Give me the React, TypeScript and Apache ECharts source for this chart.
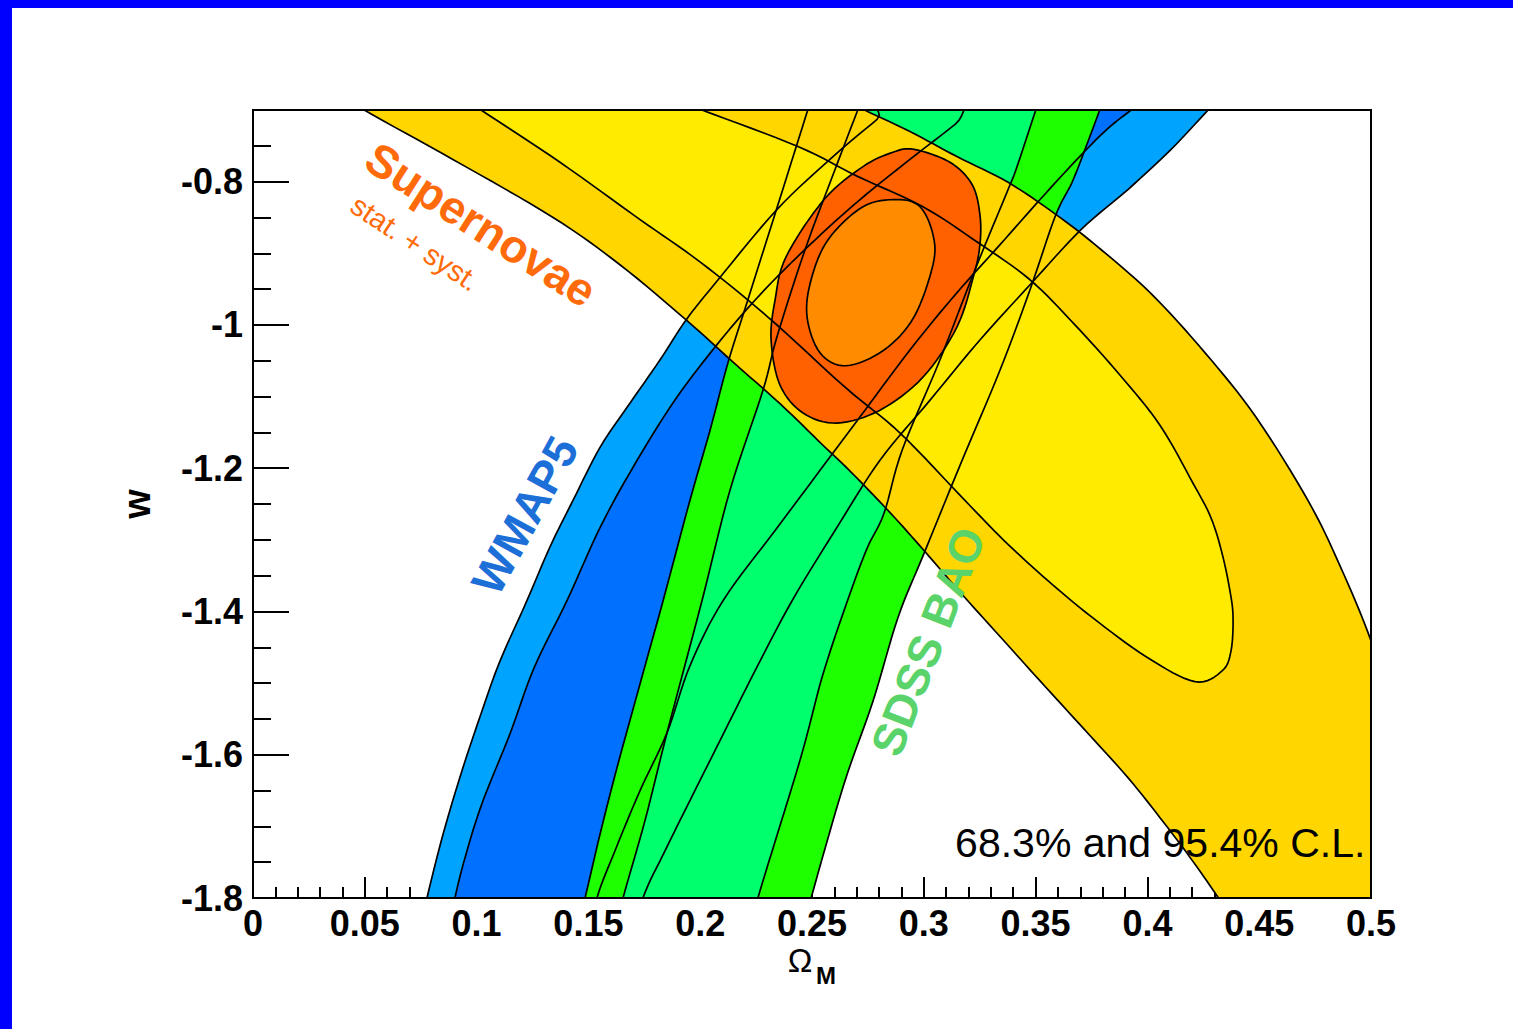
import React, { useEffect, useRef } from "react";
import * as echarts from "echarts";

type Pt = [number, number];

// Axis ranges: Omega_M horizontally, w vertically
const X_MIN = 0;
const X_MAX = 0.5;
const X_STEP = 0.05;
const W_MIN = -1.8;
const W_MAX = -0.7;
const W_STEP = 0.2;
const W_MINOR_STEP = 0.05;

// Confidence contours as closed outlines in (Omega_M, w)
const wmap95: Pt[] = [
  [0.0725, -1.874], [0.0778, -1.8], [0.085, -1.711], [0.0935, -1.622], [0.1024, -1.539],
  [0.1105, -1.469], [0.1225, -1.385], [0.1328, -1.31], [0.1431, -1.245], [0.1552, -1.171],
  [0.1673, -1.115], [0.182, -1.049], [0.1937, -0.993], [0.208, -0.937], [0.2343, -0.839],
  [0.2594, -0.765], [0.2791, -0.713], [0.2916, -0.678],
  [0.4347, -0.678], [0.4275, -0.699], [0.4106, -0.755], [0.3913, -0.811], [0.3703, -0.867],
  [0.3475, -0.944], [0.3251, -1.021], [0.3028, -1.105], [0.2804, -1.189], [0.2603, -1.287],
  [0.2411, -1.385], [0.2245, -1.483], [0.2089, -1.58], [0.1954, -1.664], [0.1843, -1.734],
  [0.1744, -1.8], [0.1686, -1.874],
];

const wmap68: Pt[] = [
  [0.0859, -1.874], [0.0903, -1.8], [0.0957, -1.734], [0.1029, -1.664], [0.1149, -1.571],
  [0.1258, -1.478], [0.1404, -1.385], [0.1552, -1.283], [0.1699, -1.199], [0.1878, -1.109],
  [0.2066, -1.031], [0.2267, -0.958], [0.2491, -0.888], [0.2715, -0.825], [0.2938, -0.769],
  [0.314, -0.72], [0.3296, -0.678],
  [0.4012, -0.678], [0.3931, -0.699], [0.3819, -0.727], [0.3685, -0.769], [0.352, -0.825],
  [0.3341, -0.888], [0.314, -0.958], [0.2938, -1.035], [0.2737, -1.119], [0.2536, -1.203],
  [0.2335, -1.287], [0.2102, -1.385], [0.1954, -1.476], [0.1852, -1.569], [0.1731, -1.65],
  [0.1619, -1.734], [0.1538, -1.8], [0.1485, -1.874],
];

const bao95: Pt[] = [
  [0.1427, -1.874], [0.1485, -1.8], [0.1552, -1.711], [0.1628, -1.618], [0.1731, -1.501],
  [0.1834, -1.385], [0.1954, -1.245], [0.2044, -1.147], [0.2124, -1.053], [0.2209, -0.969],
  [0.2348, -0.832], [0.2482, -0.699], [0.2504, -0.678],
  [0.381, -0.678], [0.3788, -0.699], [0.3721, -0.755], [0.3663, -0.801], [0.3587, -0.849],
  [0.3475, -0.951], [0.3341, -1.063], [0.3162, -1.196], [0.3001, -1.319], [0.2885, -1.408],
  [0.2773, -1.525], [0.2643, -1.641], [0.2496, -1.8], [0.2433, -1.874],
];

const bao68: Pt[] = [
  [0.1597, -1.874], [0.1655, -1.8], [0.1753, -1.692], [0.1852, -1.569], [0.2008, -1.385],
  [0.2133, -1.231], [0.2281, -1.091], [0.2343, -1.017], [0.2469, -0.895], [0.2603, -0.783],
  [0.2706, -0.699], [0.2733, -0.678],
  [0.3529, -0.678], [0.3502, -0.699], [0.3417, -0.779], [0.3377, -0.811], [0.3229, -0.923],
  [0.3072, -1.049], [0.2903, -1.175], [0.2822, -1.263], [0.2742, -1.315], [0.2643, -1.399],
  [0.2545, -1.492], [0.2446, -1.608], [0.2258, -1.8], [0.22, -1.874],
];

const sn95: Pt[] = [
  [0.0165, -0.636], [0.0492, -0.699], [0.0894, -0.769], [0.1342, -0.85], [0.1641, -0.916],
  [0.1937, -0.993], [0.2147, -1.052], [0.2357, -1.11], [0.2549, -1.168], [0.267, -1.204],
  [0.2849, -1.262], [0.3001, -1.315], [0.3162, -1.373], [0.3341, -1.435], [0.352, -1.497],
  [0.3716, -1.564], [0.3913, -1.632], [0.4074, -1.695], [0.419, -1.743], [0.432, -1.801],
  [0.4504, -1.888], [0.4906, -1.93],
  [0.5242, -1.888], [0.5219, -1.804], [0.5174, -1.692], [0.5107, -1.552], [0.5, -1.441],
  [0.4861, -1.336], [0.4718, -1.245], [0.4486, -1.129], [0.4258, -1.039], [0.4012, -0.955],
  [0.3766, -0.888], [0.3587, -0.845], [0.3377, -0.801], [0.3148, -0.765], [0.2938, -0.73],
  [0.2728, -0.699], [0.2357, -0.643],
];

const sn68: Pt[] = [
  [0.0792, -0.653], [0.1015, -0.699], [0.1373, -0.773], [0.1731, -0.853], [0.1999, -0.912],
  [0.2303, -0.989], [0.2648, -1.087], [0.2894, -1.151], [0.3184, -1.245], [0.3359, -1.301],
  [0.3555, -1.357], [0.3752, -1.408], [0.3998, -1.464], [0.4213, -1.498], [0.4334, -1.483],
  [0.4374, -1.455], [0.4383, -1.408], [0.4369, -1.371], [0.4334, -1.319], [0.4284, -1.269],
  [0.4204, -1.221], [0.4056, -1.14], [0.3877, -1.07], [0.3676, -1.0], [0.3475, -0.937],
  [0.3242, -0.885], [0.2996, -0.835], [0.2706, -0.793], [0.2437, -0.751], [0.1999, -0.699],
  [0.1641, -0.657],
];

const combined95: Pt[] = [
  [0.2956, -0.755], [0.3117, -0.773], [0.3216, -0.804], [0.3251, -0.846], [0.3251, -0.888],
  [0.3224, -0.93], [0.3148, -1.003], [0.2996, -1.073], [0.2804, -1.119], [0.2612, -1.137],
  [0.246, -1.123], [0.2357, -1.084], [0.2317, -1.021], [0.2335, -0.965], [0.2384, -0.905],
  [0.2554, -0.825], [0.2728, -0.779], [0.2862, -0.759],
];

const combined68: Pt[] = [
  [0.288, -0.825], [0.2983, -0.835], [0.3041, -0.874], [0.3041, -0.916], [0.2956, -0.989],
  [0.2822, -1.035], [0.2652, -1.057], [0.2536, -1.039], [0.2478, -0.989], [0.2496, -0.937],
  [0.2572, -0.881], [0.2728, -0.835],
];

const contourNames = [
  "WMAP5 95.4%", "WMAP5 68.3%", "SDSS BAO 95.4%", "SDSS BAO 68.3%",
  "SN 95.4%", "SN 68.3%", "Combined 95.4%", "Combined 68.3%",
];
const contourPoints: Pt[][] = [wmap95, wmap68, bao95, bao68, sn95, sn68, combined95, combined68];
const contourColors = [
  "#00a4ff", "#0070ff", "#1eff00", "#00ff6c",
  "#ffd600", "#ffeb00", "#ff6000", "#ff8c00",
];

// Text annotations, anchored in data units
const annotations = [
  { text: "Supernovae", at: [0.102, -0.86] as Pt },
  { text: "stat. + syst.", at: [0.0725, -0.886] as Pt },
  { text: "WMAP5", at: [0.1216, -1.266] as Pt },
  { text: "SDSS BAO", at: [0.3019, -1.442] as Pt },
  { text: "68.3% and 95.4% C.L.", at: [0.314, -1.723] as Pt },
];

const FONT = "'Liberation Sans', Arial, Helvetica, sans-serif";

// Closed Catmull-Rom spline through pixel points, for smooth outlines
function smoothClosed(pts: number[][], steps: number): number[][] {
  const n = pts.length;
  const out: number[][] = [];
  for (let i = 0; i < n; i++) {
    const p0 = pts[(i - 1 + n) % n];
    const p1 = pts[i];
    const p2 = pts[(i + 1) % n];
    const p3 = pts[(i + 2) % n];
    for (let s = 0; s < steps; s++) {
      const t = s / steps;
      const t2 = t * t;
      const t3 = t2 * t;
      const v = [0, 1].map(
        (k) =>
          0.5 *
          (2 * p1[k] +
            (-p0[k] + p2[k]) * t +
            (2 * p0[k] - 5 * p1[k] + 4 * p2[k] - p3[k]) * t2 +
            (-p0[k] + 3 * p1[k] - 3 * p2[k] + p3[k]) * t3)
      );
      out.push(v);
    }
  }
  return out;
}

// Sutherland-Hodgman clipping of a polygon to the plotting rectangle
function clipEdge(
  pts: number[][],
  inside: (p: number[]) => boolean,
  cross: (a: number[], b: number[]) => number[]
): number[][] {
  const out: number[][] = [];
  for (let i = 0; i < pts.length; i++) {
    const cur = pts[i];
    const prev = pts[(i + pts.length - 1) % pts.length];
    const ci = inside(cur);
    const pi = inside(prev);
    if (ci) {
      if (!pi) out.push(cross(prev, cur));
      out.push(cur);
    } else if (pi) {
      out.push(cross(prev, cur));
    }
  }
  return out;
}

function clipRect(pts: number[][], x0: number, y0: number, x1: number, y1: number) {
  const atX = (a: number[], b: number[], x: number) => [x, a[1] + ((b[1] - a[1]) * (x - a[0])) / (b[0] - a[0])];
  const atY = (a: number[], b: number[], y: number) => [a[0] + ((b[0] - a[0]) * (y - a[1])) / (b[1] - a[1]), y];
  let r = pts;
  r = clipEdge(r, (p) => p[0] >= x0, (a, b) => atX(a, b, x0));
  if (!r.length) return r;
  r = clipEdge(r, (p) => p[0] <= x1, (a, b) => atX(a, b, x1));
  if (!r.length) return r;
  r = clipEdge(r, (p) => p[1] >= y0, (a, b) => atY(a, b, y0));
  if (!r.length) return r;
  r = clipEdge(r, (p) => p[1] <= y1, (a, b) => atY(a, b, y1));
  return r;
}

function makeRenderer(layer: "fill" | "line") {
  return (params: any, api: any) => {
    const idx = params.dataIndex;
    const cs = params.coordSys;
    const px = contourPoints[idx].map((p) => api.coord(p));
    const curve = smoothClosed(px, 8);
    const clipped = clipRect(curve, cs.x, cs.y, cs.x + cs.width, cs.y + cs.height);
    if (clipped.length < 3) return null;
    return {
      type: "polygon",
      shape: { points: clipped },
      silent: true,
      style:
        layer === "fill"
          ? { fill: contourColors[idx], stroke: "none" }
          : { fill: "none", stroke: "#000", lineWidth: 1.7, lineJoin: "round" },
    };
  };
}

const fmtX = (v: number) => String(+v.toFixed(2));
const fmtW = (v: number) => String(+v.toFixed(1));

export default function App() {
  const ref = useRef<HTMLDivElement>(null);

  useEffect(() => {
    if (!ref.current) return;
    const chart = echarts.init(ref.current, undefined, { renderer: "svg" });
    const seriesData = contourPoints.map((pts, i) => ({ name: contourNames[i], value: pts[0] }));

    chart.setOption({
      animation: false,
      backgroundColor: "#ffffff",
      grid: { left: 253, top: 110, width: 1118, height: 788, containLabel: false },
      xAxis: {
        type: "value",
        min: X_MIN,
        max: X_MAX,
        interval: X_STEP,
        position: "bottom",
        axisLine: { show: true, onZero: false, lineStyle: { color: "#000", width: 2 } },
        axisTick: { show: true, inside: true, length: 21, lineStyle: { color: "#000", width: 2 } },
        minorTick: { show: true, splitNumber: 5, length: 11, lineStyle: { color: "#000", width: 2 } },
        axisLabel: {
          fontSize: 36,
          fontWeight: "bold",
          fontFamily: FONT,
          color: "#000",
          margin: 7,
          formatter: fmtX,
          showMinLabel: true,
          showMaxLabel: true,
        },
        splitLine: { show: false },
        minorSplitLine: { show: false },
      },
      yAxis: [
        {
          type: "value",
          min: W_MIN,
          max: W_MAX,
          interval: W_STEP,
          position: "left",
          axisLine: { show: true, onZero: false, lineStyle: { color: "#000", width: 2 } },
          axisTick: { show: true, inside: true, length: 36, lineStyle: { color: "#000", width: 2 } },
          axisLabel: {
            fontSize: 36,
            fontWeight: "bold",
            fontFamily: FONT,
            color: "#000",
            margin: 10,
            formatter: fmtW,
            showMaxLabel: false,
          },
          splitLine: { show: false },
          name: "w",
          nameLocation: "middle",
          nameGap: 97,
          nameTextStyle: { fontSize: 38, fontWeight: "bold", fontFamily: FONT, color: "#000" },
        },
        {
          type: "value",
          min: W_MIN,
          max: W_MAX,
          interval: W_MINOR_STEP,
          position: "left",
          axisLine: { show: false },
          axisTick: { show: true, inside: true, length: 18, lineStyle: { color: "#000", width: 2 } },
          axisLabel: { show: false },
          splitLine: { show: false },
        },
      ],
      series: [
        {
          type: "custom",
          name: "regions",
          coordinateSystem: "cartesian2d",
          xAxisIndex: 0,
          yAxisIndex: 0,
          renderItem: makeRenderer("fill"),
          data: seriesData,
          z: 2,
          silent: true,
        },
        {
          type: "custom",
          name: "outlines",
          coordinateSystem: "cartesian2d",
          xAxisIndex: 0,
          yAxisIndex: 0,
          renderItem: makeRenderer("line"),
          data: seriesData,
          z: 3,
          silent: true,
        },
      ],
    });

    const toPx = (p: Pt) => chart.convertToPixel({ xAxisIndex: 0, yAxisIndex: 0 }, p) as number[];
    const tl = toPx([X_MIN, W_MAX]);
    const br = toPx([X_MAX, W_MIN]);
    const a = annotations.map((n) => toPx(n.at));

    const label = (i: number, rotation: number, fill: string, font: string, align = "center") => ({
      type: "text",
      x: a[i][0],
      y: a[i][1],
      rotation,
      z: 60,
      silent: true,
      style: {
        text: annotations[i].text,
        fill,
        font,
        align,
        textAlign: align,
        verticalAlign: "middle",
        textVerticalAlign: "middle",
      },
    });

    chart.setOption({
      graphic: [
        // page border
        { type: "rect", shape: { x: 0, y: 0, width: 1513, height: 8 }, style: { fill: "#0000ff" }, z: 0, silent: true },
        { type: "rect", shape: { x: 0, y: 0, width: 12, height: 1029 }, style: { fill: "#0000ff" }, z: 0, silent: true },
        // plot frame
        {
          type: "rect",
          shape: { x: tl[0], y: tl[1], width: br[0] - tl[0], height: br[1] - tl[1] },
          style: { fill: "none", stroke: "#000", lineWidth: 2 },
          z: 100,
          silent: true,
        },
        label(0, -0.57, "#ff6a0a", `bold 46px ${FONT}`),
        label(1, -0.59, "#ff6a0a", `29px ${FONT}`),
        label(2, 1.07, "#1d6fd8", `bold 46px ${FONT}`),
        label(3, 1.2, "#5ad46a", `bold 46px ${FONT}`),
        label(4, 0, "#000000", `41px ${FONT}`, "left"),
        // x-axis title: Omega with subscript M
        {
          type: "text",
          x: (tl[0] + br[0]) / 2 - 12,
          y: 960,
          z: 60,
          silent: true,
          style: { text: "Ω", fill: "#000", font: `33px ${FONT}`, align: "center", textAlign: "center", verticalAlign: "middle", textVerticalAlign: "middle" },
        },
        {
          type: "text",
          x: (tl[0] + br[0]) / 2 + 14,
          y: 975,
          z: 60,
          silent: true,
          style: { text: "M", fill: "#000", font: `bold 24px ${FONT}`, align: "center", textAlign: "center", verticalAlign: "middle", textVerticalAlign: "middle" },
        },
      ],
    });

    return () => chart.dispose();
  }, []);

  return (
    <div style={{ position: "fixed", left: 0, top: 0, width: 1513, height: 1029, background: "#fff" }}>
      <div ref={ref} style={{ width: 1513, height: 1029 }} />
    </div>
  );
}
